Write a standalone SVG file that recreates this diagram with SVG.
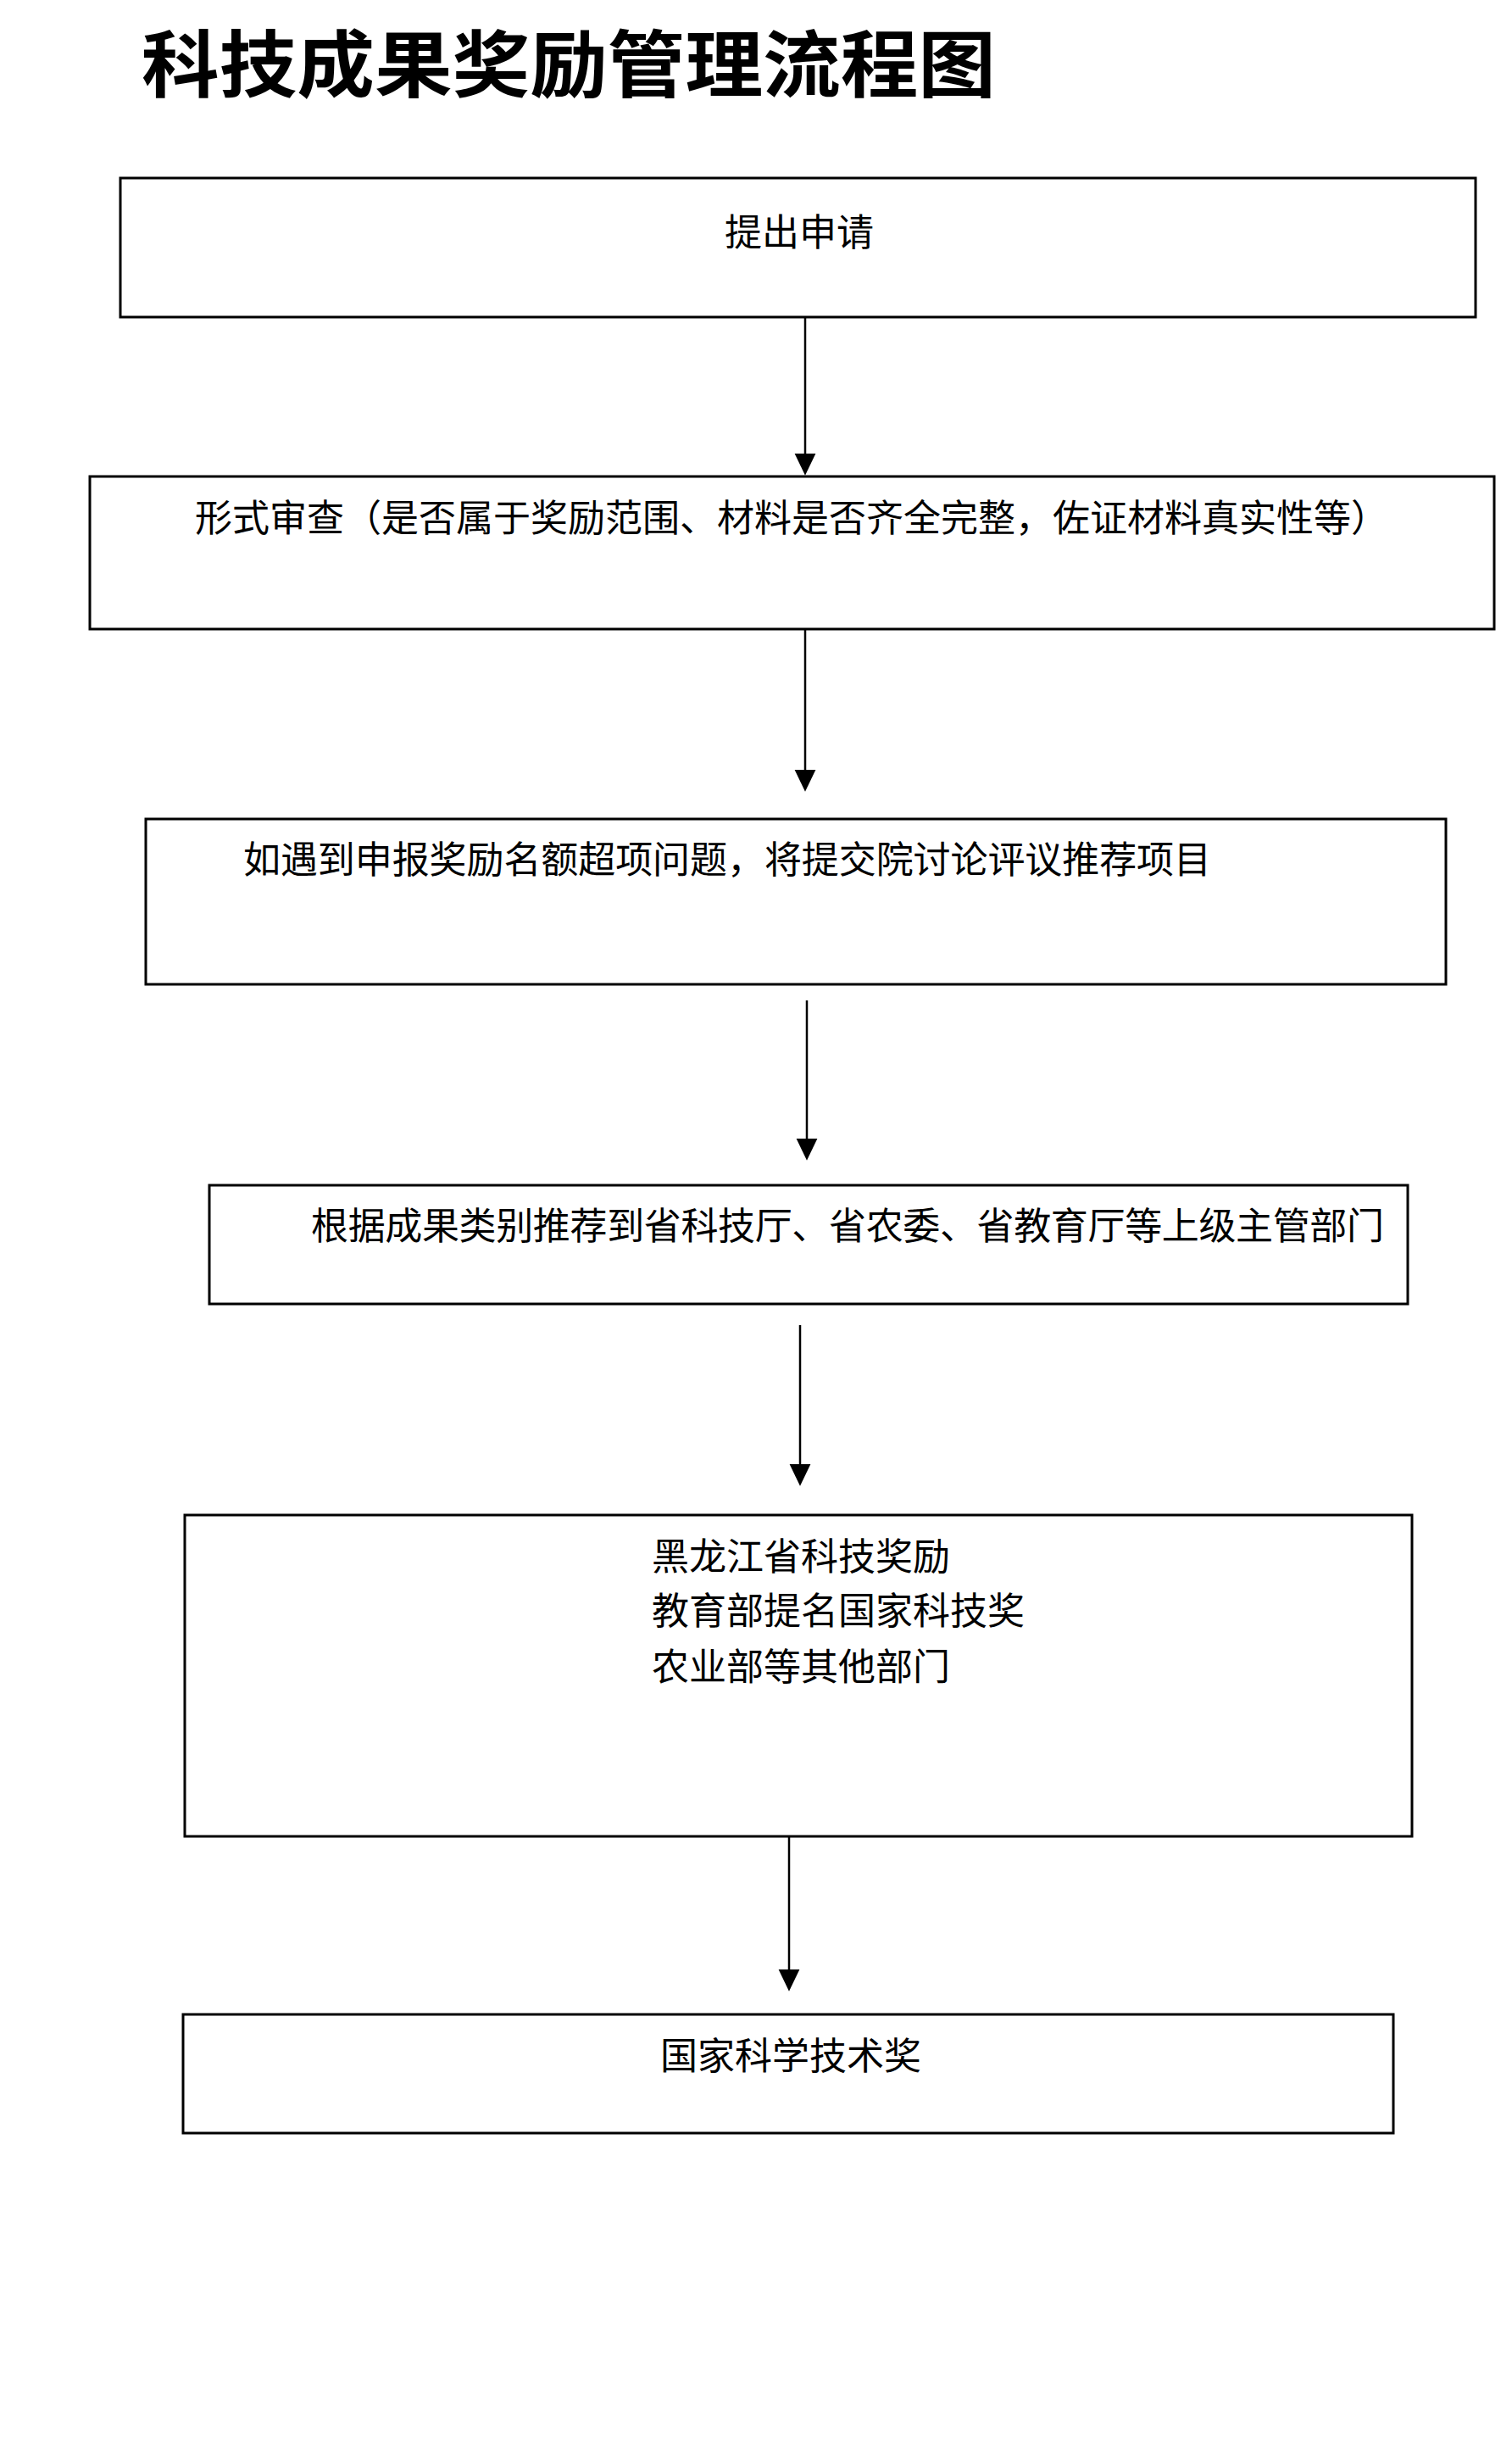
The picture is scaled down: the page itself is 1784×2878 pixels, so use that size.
<svg xmlns="http://www.w3.org/2000/svg" width="1784" height="2878" viewBox="0 0 1784 2878">
  <style>
    .box { fill: #ffffff; stroke: #000000; stroke-width: 3; }
    .lbl { font-family: "Noto Sans CJK SC", "Noto Sans", sans-serif; font-size: 44px; fill: #000000; }
    .title { font-family: "Noto Sans CJK SC", "Noto Sans", sans-serif; font-size: 86px; font-weight: bold; fill: #000000; }
    .conn { stroke: #000000; stroke-width: 2.5; fill: none; marker-end: url(#arrow); }
  </style>
  <defs>
    <marker id="arrow" markerUnits="userSpaceOnUse" markerWidth="26" markerHeight="26" viewBox="0 0 25 24" refX="5" refY="12" orient="auto">
      <path d="M0,0 L25,12 L0,24 Z" fill="#000000"/>
    </marker>
  </defs>
  <rect width="1784" height="2878" fill="#ffffff"/>

  <text class="title" x="167" y="108" textLength="1008" lengthAdjust="spacingAndGlyphs">科技成果奖励管理流程图</text>

  <g id="connectors">
    <line class="conn" x1="950" y1="373" x2="950" y2="540"/>
    <line class="conn" x1="950" y1="743" x2="950" y2="913"/>
    <line class="conn" x1="952" y1="1180" x2="952" y2="1348"/>
    <line class="conn" x1="944" y1="1563" x2="944" y2="1732"/>
    <line class="conn" x1="931" y1="2161" x2="931" y2="2328"/>
  </g>

  <g id="node1">
    <rect class="box" x="142" y="210" width="1599" height="164"/>
    <text class="lbl" x="855" y="290">提出申请</text>
  </g>
  <g id="node2">
    <rect class="box" x="106" y="562" width="1657" height="180"/>
    <text class="lbl" x="230" y="627">形式审查（是否属于奖励范围、材料是否齐全完整，佐证材料真实性等）</text>
  </g>
  <g id="node3">
    <rect class="box" x="172" y="966" width="1534" height="195"/>
    <text class="lbl" x="287" y="1030" textLength="1142" lengthAdjust="spacing">如遇到申报奖励名额超项问题，将提交院讨论评议推荐项目</text>
  </g>
  <g id="node4">
    <rect class="box" x="247" y="1398" width="1414" height="140"/>
    <text class="lbl" x="367" y="1462" textLength="1266" lengthAdjust="spacing">根据成果类别推荐到省科技厅、省农委、省教育厅等上级主管部门</text>
  </g>
  <g id="node5">
    <rect class="box" x="218" y="1787" width="1448" height="379"/>
    <text class="lbl" x="769" y="1852">黑龙江省科技奖励</text>
    <text class="lbl" x="769" y="1916">教育部提名国家科技奖</text>
    <text class="lbl" x="769" y="1982">农业部等其他部门</text>
  </g>
  <g id="node6">
    <rect class="box" x="216" y="2376" width="1428" height="140"/>
    <text class="lbl" x="779" y="2441">国家科学技术奖</text>
  </g>
</svg>
